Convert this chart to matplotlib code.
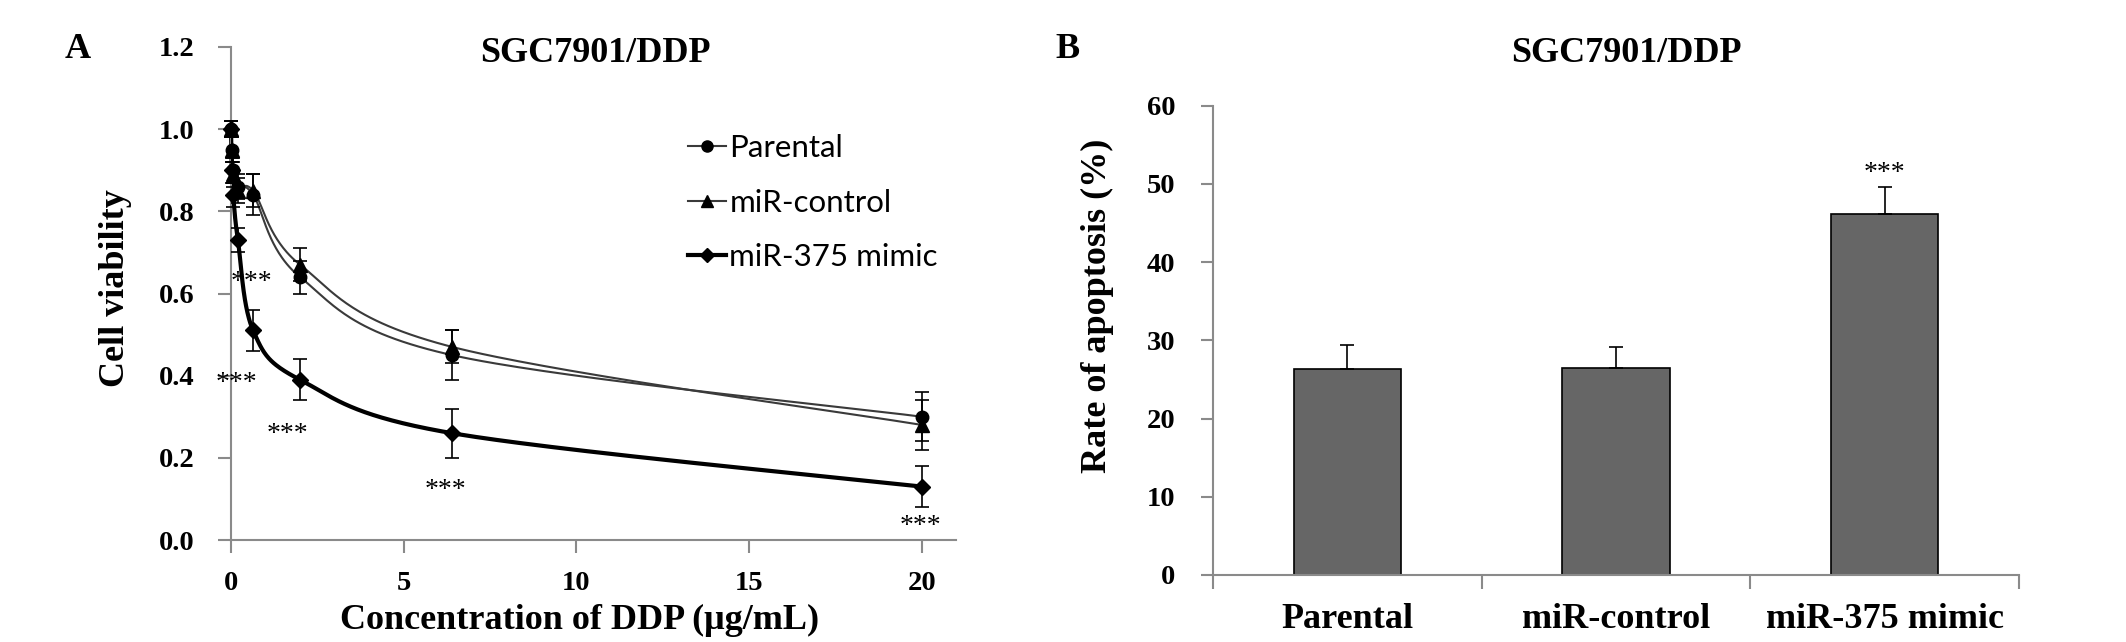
import numpy as np
import matplotlib
matplotlib.use("Agg")
import matplotlib.pyplot as plt

# ---------------- data ----------------
conc = [0, 0.02, 0.064, 0.2, 0.64, 2, 6.4, 20]
parental = [1.00, 0.95, 0.90, 0.86, 0.84, 0.64, 0.45, 0.30]
parental_err = [0.02, 0.03, 0.03, 0.03, 0.05, 0.04, 0.06, 0.06]
control = [1.00, 0.95, 0.89, 0.85, 0.85, 0.67, 0.47, 0.28]
control_err = [0.02, 0.03, 0.03, 0.03, 0.04, 0.04, 0.04, 0.06]
mimic = [1.00, 0.90, 0.84, 0.73, 0.51, 0.39, 0.26, 0.13]
mimic_err = [0.02, 0.03, 0.03, 0.03, 0.05, 0.05, 0.06, 0.05]
series_names = ["Parental", "miR-control", "miR-375 mimic"]

star_x_a = [0.58, 0.17, 1.64, 6.21, 19.95]
star_y_a = [0.612, 0.366, 0.240, 0.104, 0.017]

groups = ["Parental", "miR-control", "miR-375 mimic"]
apoptosis = [26.3, 26.5, 46.1]
apoptosis_err = [3.1, 2.7, 3.5]
star_b = [(2, 50.5)]

yticks_a = [0.0, 0.2, 0.4, 0.6, 0.8, 1.0, 1.2]
xticks_a = [0, 5, 10, 15, 20]
yticks_b = [0, 10, 20, 30, 40, 50, 60]

# ---------------- style ----------------
SERIF = "Liberation Serif"
SANS = "Lato"
GREY = "#8a8a8a"


def smooth(xs, ys, n=60):
    """Excel-like Bezier smoothing through the points."""
    P = np.column_stack([xs, ys]).astype(float)
    m = len(P)
    out = []
    for i in range(m - 1):
        p0 = P[i - 1] if i > 0 else P[i]
        p1 = P[i]
        p2 = P[i + 1]
        p3 = P[i + 2] if i + 2 < m else P[i + 1]
        c1 = p1 + (p2 - p0) / 6.0
        c2 = p2 - (p3 - p1) / 6.0
        t = np.linspace(0, 1, n)[:, None]
        seg = ((1 - t) ** 3) * p1 + 3 * ((1 - t) ** 2) * t * c1 + 3 * (1 - t) * t ** 2 * c2 + t ** 3 * p2
        out.append(seg if i == 0 else seg[1:])
    out = np.vstack(out)
    return out[:, 0], out[:, 1]


W, H = 2126, 642
fig = plt.figure(figsize=(W / 100, H / 100), dpi=100)

# ---------------- panel A ----------------
axA = fig.add_axes([231 / W, 1 - 540 / H, 725.5 / W, 493 / H])
specs = [
    (parental, parental_err, "o", "#3a3a3a", 1.5, 9),
    (control, control_err, "^", "#3a3a3a", 1.5, 10),
    (mimic, mimic_err, "D", "black", 3.0, 8),
]
handles = []
for (vals, errs, mk, col, lw, ms), name in zip(specs, series_names):
    sx, sy = smooth(conc, vals)
    axA.plot(sx, sy, color=col, lw=lw, zorder=2, clip_on=False)
    axA.errorbar(conc, vals, yerr=errs, fmt="none", ecolor="black", elinewidth=1.2,
                 capsize=5, capthick=1.2, zorder=3, clip_on=False)
    axA.plot(conc, vals, linestyle="none", marker=mk, color="black", ms=ms,
             zorder=4, clip_on=False)
    h, = axA.plot([], [], color=col if lw < 2 else "black", lw=lw, marker=mk,
                  ms=ms - 1, markerfacecolor="black", markeredgecolor="black")
    handles.append(h)

for sx_, sy_ in zip(star_x_a, star_y_a):
    axA.text(sx_, sy_, "***", ha="center", va="baseline", fontsize=20,
             family=SERIF)

axA.set_xlim(0, 21)
axA.set_ylim(0, 1.2)
axA.set_xticks(xticks_a)
axA.set_yticks(yticks_a)
axA.set_yticklabels([f"{v:.1f}" for v in yticks_a])
for s in ["top", "right"]:
    axA.spines[s].set_visible(False)
for s in ["left", "bottom"]:
    axA.spines[s].set_color(GREY)
    axA.spines[s].set_linewidth(1.5)
axA.tick_params(axis="both", direction="out", length=9.5, width=1.5, color=GREY,
                labelsize=20.5)
axA.tick_params(axis="y", pad=17)
axA.tick_params(axis="x", pad=13)
for lab in axA.get_xticklabels() + axA.get_yticklabels():
    lab.set_family(SERIF)
    lab.set_fontweight("bold")

leg = axA.legend(handles, series_names, loc="upper left",
                 bbox_to_anchor=(688 / W, 1 - 134 / H), bbox_transform=fig.transFigure,
                 frameon=False, prop={"family": SANS, "size": 22.5},
                 handlelength=1.2, handletextpad=0.12, labelspacing=0.85,
                 borderpad=0, borderaxespad=0)

fig.text(78 / W, 1 - 58 / H, "A", ha="center", va="baseline", fontsize=26,
         family=SERIF, fontweight="bold")
fig.text(595 / W, 1 - 53 / H, "SGC7901/DDP", ha="center", va="center", fontsize=26,
         family=SERIF, fontweight="bold")
fig.text(115 / W, 1 - 288 / H, "Cell viability", ha="center", va="center",
         rotation=90, fontsize=26, family=SERIF, fontweight="bold")
fig.text(580 / W, 1 - 620 / H, "Concentration of DDP (\u03bcg/mL)", ha="center",
         va="center", fontsize=26, family=SERIF, fontweight="bold")

# ---------------- panel B ----------------
axB = fig.add_axes([1213 / W, 1 - 575 / H, 806 / W, 469.5 / H])
xb = np.arange(len(groups))
axB.bar(xb, apoptosis, width=0.4, color="#666666", edgecolor="black", linewidth=1.2,
        zorder=2)
axB.errorbar(xb, apoptosis, yerr=[np.zeros(len(apoptosis)), apoptosis_err], fmt="none",
             ecolor="black", elinewidth=1.2, capsize=5, capthick=1.2, zorder=3)
for gx, gy in star_b:
    axB.text(gx, gy, "***", ha="center", va="baseline", fontsize=20, family=SERIF)

axB.set_xlim(-0.5, len(groups) - 0.5)
axB.set_ylim(0, 60)
axB.set_yticks(yticks_b)
axB.set_xticks(np.arange(-0.5, len(groups), 1.0))
axB.set_xticklabels([])
axB.set_xticks(xb, minor=True)
axB.set_xticklabels(groups, minor=True)
for s in ["top", "right"]:
    axB.spines[s].set_visible(False)
for s in ["left", "bottom"]:
    axB.spines[s].set_color(GREY)
    axB.spines[s].set_linewidth(1.5)
axB.tick_params(axis="y", direction="out", length=9, width=1.5, color=GREY,
                labelsize=20.5, pad=18)
axB.tick_params(axis="x", which="major", direction="out", length=10, width=1.5, color=GREY)
axB.tick_params(axis="x", which="minor", length=0, labelsize=26, pad=20)
for lab in axB.get_yticklabels() + axB.get_xticklabels(minor=True):
    lab.set_family(SERIF)
    lab.set_fontweight("bold")

fig.text(1067 / W, 1 - 58 / H, "B", ha="center", va="baseline", fontsize=26,
         family=SERIF, fontweight="bold")
fig.text(1626 / W, 1 - 53 / H, "SGC7901/DDP", ha="center", va="center", fontsize=26,
         family=SERIF, fontweight="bold")
fig.text(1097 / W, 1 - 306 / H, "Rate of apoptosis (%)", ha="center", va="center",
         rotation=90, fontsize=26, family=SERIF, fontweight="bold")

fig.savefig("out.png", dpi=100)
